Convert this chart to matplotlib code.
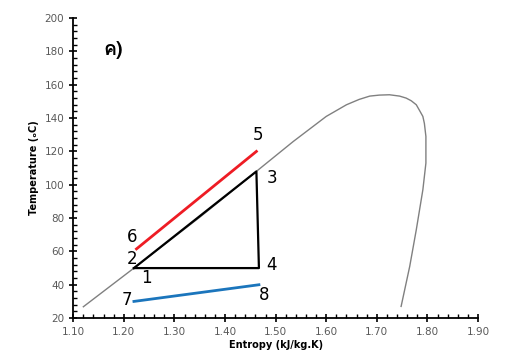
import matplotlib
matplotlib.use("Agg")
import matplotlib.pyplot as plt
from matplotlib import font_manager
from matplotlib.ft2font import FT2Font
from matplotlib.ticker import MultipleLocator, FormatStrFormatter

# Saturation dome (entropy, temperature)
dome_s = [1.12, 1.22, 1.35, 1.47, 1.535, 1.60, 1.64, 1.665, 1.686, 1.705, 1.725,
          1.745, 1.758, 1.768, 1.778, 1.784, 1.791, 1.794, 1.797, 1.797,
          1.794, 1.791, 1.778, 1.765, 1.748]
dome_t = [26.8, 50, 80.5, 110, 126, 141, 148, 151.2, 153.2, 153.8, 154,
          153.2, 152, 150.4, 148, 144.8, 141, 136.8, 129, 113,
          105, 97, 73, 51, 27]

# Refrigerant cycle 1-2-3-4
cycle_s = [1.22, 1.462, 1.467, 1.22]
cycle_t = [50, 108, 50, 50]

# Hot stream 6-5
hot_s = [1.225, 1.462]
hot_t = [61.5, 120]

# Cold stream 7-8
cold_s = [1.22, 1.467]
cold_t = [30, 40]

labels = ["1", "2", "3", "4", "5", "6", "7", "8"]
label_s = [1.244, 1.216, 1.492, 1.492, 1.4655, 1.216, 1.206, 1.477]
label_t = [43.8, 55.2, 103.8, 51.8, 129.8, 68.8, 30.8, 33.8]

panel_label = "ค)"
xlabel = "Entropy (kJ/kg.K)"
ylabel = "Temperature (ₒC)"


def find_font(ch):
    for f in font_manager.fontManager.ttflist:
        try:
            if FT2Font(f.fname).get_char_index(ord(ch)):
                return f.name
        except Exception:
            pass
    return "DejaVu Sans"


thai_font = find_font("ค")

fig = plt.figure(figsize=(5.23, 3.55), dpi=100)
ax = fig.add_axes([0.140, 0.104, 0.774, 0.845])

ax.plot(dome_s, dome_t, color="#808080", lw=1.0)
ax.plot(cycle_s, cycle_t, color="black", lw=1.6)
ax.plot(hot_s, hot_t, color="#ee1c24", lw=2.0)
ax.plot(cold_s, cold_t, color="#1b75bc", lw=2.0)

for lab, s, t in zip(labels, label_s, label_t):
    ax.text(s, t, lab, fontsize=12, ha="center", va="center", color="black")

ax.text(1.179, 180.8, panel_label, fontsize=14, ha="center", va="center",
        color="black", family=[thai_font, "DejaVu Sans"], fontweight="bold")

ax.set_xlim(1.10, 1.90)
ax.set_ylim(20, 200)
ax.xaxis.set_major_locator(MultipleLocator(0.1))
ax.xaxis.set_minor_locator(MultipleLocator(0.02))
ax.yaxis.set_major_locator(MultipleLocator(20))
ax.yaxis.set_minor_locator(MultipleLocator(4))
ax.xaxis.set_major_formatter(FormatStrFormatter("%.2f"))

for sp in ["top", "right"]:
    ax.spines[sp].set_visible(False)
for sp in ["left", "bottom"]:
    ax.spines[sp].set_linewidth(1.3)
    ax.spines[sp].set_color("black")

ax.tick_params(which="major", direction="inout", length=6, width=1.2,
               labelsize=7.5, labelcolor="#595959", color="black")
ax.tick_params(which="minor", direction="in", length=3, width=1.0, color="black")

ax.set_xlabel(xlabel, fontsize=7, fontweight="bold", labelpad=2)
ax.set_ylabel(ylabel, fontsize=7, fontweight="bold", labelpad=4)

fig.savefig("out.png", dpi=100, facecolor="white")
